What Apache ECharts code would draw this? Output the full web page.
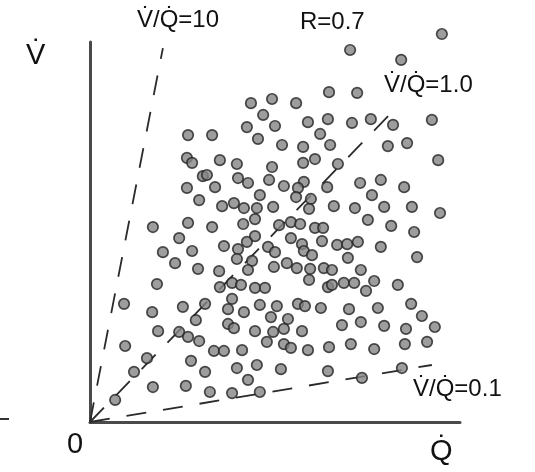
<!DOCTYPE html>
<html>
<head>
<meta charset="utf-8">
<script src="https://cdn.jsdelivr.net/npm/echarts@6/dist/echarts.min.js"></script>
<style>
  html, body { margin: 0; padding: 0; background: #fff; }
  #chart { width: 535px; height: 472px; }
</style>
</head>
<body>
<div id="chart"></div>
<script>
// Perfusion (Q) and ventilation (V) of each lung unit, arbitrary units 0-100
const perfusion = [
  26.5, 33.0, 43.5, 49.2, 55.7, 64.6, 46.8, 42.4, 50.0, 58.9, 64.3, 45.4, 62.2, 51.9, 57.6, 64.9,
  95.1, 70.3, 84.1, 72.2, 70.8, 75.9, 81.9, 92.4, 80.5, 85.7,
  26.2, 27.6, 30.5, 26.2, 29.5, 17.0, 26.5, 24.1, 19.7, 27.6, 23.0, 29.2, 18.1,
  35.1, 39.7, 49.2, 57.6, 60.8, 31.6, 40.0, 42.7, 48.4, 33.8, 52.4, 57.8, 64.1, 56.2, 45.9, 55.7,
  59.7, 35.7, 38.9, 41.6, 45.1, 49.5, 59.2, 44.6, 41.4, 33.0, 51.1, 54.3, 56.8, 60.8, 63.0, 44.6,
  42.4, 40.0, 36.2, 48.1, 50.0, 54.3, 57.3, 57.8, 60.0, 62.7, 39.7, 43.8, 42.7, 49.7, 53.2, 55.9,
  59.5, 63.2, 34.9, 59.2, 35.1, 38.4, 40.8, 44.6, 47.3, 64.3,
  94.1, 67.0, 73.0, 78.6, 84.9, 76.2, 65.9, 71.6, 79.5, 87.0, 94.6, 75.1, 81.4, 87.6, 66.8, 69.5,
  72.4, 78.6, 69.7, 88.4, 65.4, 73.2, 65.4, 68.6, 71.4, 76.8, 74.6, 83.2,
  9.2, 16.8, 25.1, 28.6, 18.4, 24.1, 26.5, 29.5, 9.5, 15.4, 27.3, 11.9, 17.0, 25.9, 6.8,
  31.1, 38.4, 37.3, 41.6, 45.9, 50.5, 48.9, 53.5, 56.2, 58.1, 62.4, 37.3, 38.9, 44.6, 49.5, 52.4,
  57.3, 47.8, 52.4, 54.3, 58.9, 64.6, 33.5, 36.2, 41.1, 31.1, 39.7, 45.1, 51.6, 64.3, 42.7, 32.4,
  38.4, 45.9,
  70.0, 77.8, 86.8, 89.7, 68.1, 73.2, 79.5, 85.4, 93.2, 70.5, 76.8, 85.1, 91.1, 73.5, 84.3
];
const ventilation = [
  75.5, 75.5, 83.9, 85.0, 83.9, 86.8, 80.8, 77.6, 77.9, 78.9, 79.7, 74.5, 75.8, 72.9, 72.4, 72.9,
  102.1, 97.9, 95.3, 86.6, 78.7, 79.7, 78.2, 79.5, 72.6, 73.4,
  69.5, 68.2, 64.7, 61.6, 58.4, 51.3, 52.4, 48.4, 44.7, 45.0, 41.8, 40.3, 36.3,
  68.9, 67.9, 67.1, 68.2, 69.2, 65.0, 64.2, 62.9, 63.7, 61.8, 62.1, 63.2, 61.8, 61.6, 59.7, 59.2,
  58.7, 56.8, 57.6, 56.3, 56.3, 56.6, 56.1, 53.4, 52.1, 51.3, 51.8, 52.6, 52.1, 51.1, 51.1, 48.9,
  47.4, 45.5, 46.3, 46.1, 44.7, 48.4, 46.8, 45.0, 43.9, 47.6, 42.9, 42.4, 40.0, 40.8, 41.8, 40.5,
  40.3, 40.5, 39.7, 37.4, 35.5, 36.6, 36.1, 35.3, 35.3, 35.5,
  68.9, 67.9, 62.9, 63.7, 61.8, 59.7, 56.8, 56.3, 56.6, 56.6, 55.0, 53.2, 51.6, 50.0, 46.6, 46.8,
  47.4, 46.1, 43.2, 43.4, 40.0, 40.0, 36.1, 36.6, 36.6, 37.1, 34.5, 36.1,
  31.1, 28.9, 30.3, 26.8, 23.9, 23.7, 22.4, 21.3, 20.0, 16.8, 16.1, 13.2, 9.2, 9.5, 5.8,
  31.1, 32.4, 29.7, 28.9, 30.8, 30.5, 27.6, 27.1, 31.1, 30.5, 30.0, 25.8, 24.7, 23.9, 23.7, 24.5,
  23.9, 21.1, 20.5, 19.5, 18.9, 19.7, 18.7, 18.7, 18.9, 13.2, 14.2, 15.0, 13.9, 13.4, 11.1, 7.9,
  7.6, 7.9,
  29.7, 30.0, 31.1, 27.9, 25.5, 26.3, 25.3, 24.5, 25.0, 20.5, 19.2, 20.5, 21.1, 11.6, 14.2
];

// Iso-ratio guide lines drawn from the origin: [Q, V] end points
const ratioLabels = ['V\u0307/Q\u0307=10', 'V\u0307/Q\u0307=1.0', 'V\u0307/Q\u0307=0.1'];
const ratioEnds = [[19.7, 98.4], [83.0, 82.9], [92.4, 15.0]];
const correlationText = 'R=0.7';

const points = perfusion.map((q, i) => [q, ventilation[i]]);

const chart = echarts.init(document.getElementById('chart'), null, { renderer: 'canvas' });

const guideSeries = ratioEnds.map((end, i) => ({
  type: 'line',
  name: ratioLabels[i],
  data: [[0, 0], end],
  symbol: 'none',
  silent: true,
  z: 2,
  lineStyle: { color: '#2a2a2a', width: 1.8, type: [20, 17] }
}));

const FONT = 'Liberation Sans, Arial, sans-serif';

chart.setOption({
  animation: false,
  backgroundColor: '#ffffff',
  grid: { left: 90, top: 42, width: 370, height: 380 },
  xAxis: {
    type: 'value', min: 0, max: 100,
    axisLine: { show: true, lineStyle: { color: '#4a4a4a', width: 3 } },
    axisTick: { show: false }, axisLabel: { show: false }, splitLine: { show: false }
  },
  yAxis: {
    type: 'value', min: 0, max: 100,
    axisLine: { show: true, lineStyle: { color: '#4a4a4a', width: 3 } },
    axisTick: { show: false }, axisLabel: { show: false }, splitLine: { show: false }
  },
  series: guideSeries.concat([{
    type: 'scatter',
    data: points,
    clip: false,
    symbol: 'circle',
    symbolSize: 10.5,
    z: 3,
    itemStyle: { color: '#858585', borderColor: '#222222', borderWidth: 1.7 }
  }]),
  graphic: [
    { type: 'text', left: 26, top: 41, style: { text: 'V\u0307', font: '29px ' + FONT, fill: '#111' } },
    { type: 'text', left: 67, top: 430, style: { text: '0', font: '29px ' + FONT, fill: '#111' } },
    { type: 'text', left: 430, top: 437, style: { text: 'Q\u0307', font: '29px ' + FONT, fill: '#111' } },
    { type: 'text', left: 137, top: 8, style: { text: ratioLabels[0], font: '24px ' + FONT, fill: '#111' } },
    { type: 'text', left: 300, top: 10, style: { text: correlationText, font: '24px ' + FONT, fill: '#111' } },
    { type: 'text', left: 384, top: 73, style: { text: ratioLabels[1], font: '24px ' + FONT, fill: '#111' } },
    { type: 'text', left: 413, top: 377, style: { text: ratioLabels[2], font: '24px ' + FONT, fill: '#111' } },
    { type: 'line', shape: { x1: 0, y1: 419, x2: 9, y2: 419 }, style: { stroke: '#333', lineWidth: 2 } }
  ]
});
</script>
</body>
</html>
